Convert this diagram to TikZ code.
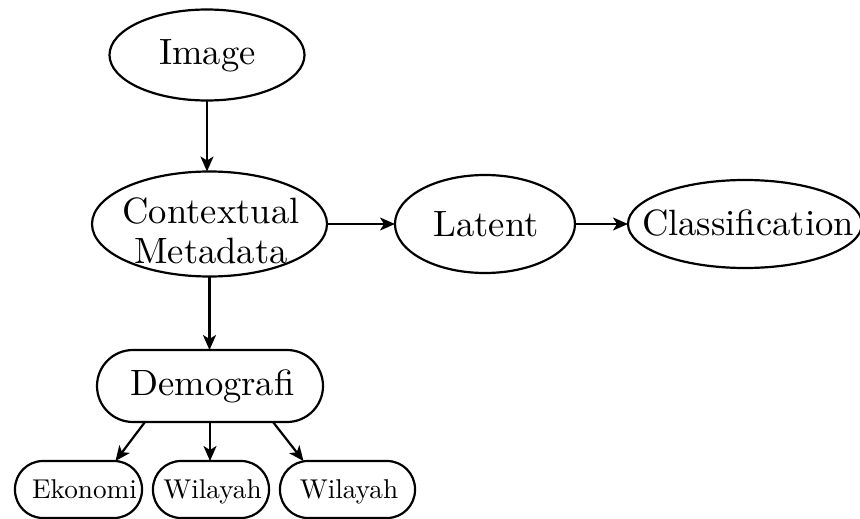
\documentclass[tikz,border=0pt]{standalone}
\usetikzlibrary{shapes.geometric,arrows.meta}
\begin{document}
\begin{tikzpicture}[x=1pt,y=-1pt,
  shp/.style={draw, line width=2.2pt, inner sep=0pt, outer sep=0pt},
  ell/.style={shp, ellipse},
  pill/.style={shp, rectangle},
  big/.style={inner sep=0pt, anchor=base, font=\fontsize{10}{11}\selectfont, scale=3.66, transform shape},
  small/.style={inner sep=0pt, anchor=base, font=\fontsize{10}{11}\selectfont, scale=2.72, transform shape},
  arr/.style={line width=2.2pt, -{Stealth[length=15pt,width=13pt,inset=4pt]}}]
\useasboundingbox (0,0) rectangle (860,519);
% shapes
\node[ell, minimum width=195pt, minimum height=91pt] (img) at (207,55) {};
\node[ell, minimum width=235pt, minimum height=105pt] (ctx) at (209.5,224) {};
\node[ell, minimum width=180pt, minimum height=98pt] (lat) at (485,224) {};
\node[ell, minimum width=234pt, minimum height=88pt] (cls) at (745,224) {};
\node[pill, rounded corners=36pt, minimum width=226pt, minimum height=72pt] (dem) at (210,386) {};
\node[pill, rounded corners=28pt, minimum width=127pt, minimum height=57pt] (eko) at (78.5,489.5) {};
\node[pill, rounded corners=28pt, minimum width=116pt, minimum height=57pt] (wil1) at (211,489.5) {};
\node[pill, rounded corners=28pt, minimum width=135pt, minimum height=57pt] (wil2) at (347.5,489.5) {};
% texts
\node[big] (imgt) at (207.5,65) {Image};
\node[big, anchor=center, align=center, font=\fontsize{10}{10.93}\selectfont] (ctxt) at (211,230.5) {Contextual\\Metadata};
\node[big] (latt) at (486,236) {Latent};
\node[big] (clst) at (748,235) {Classification};
\node[big] (demt) at (212.5,395) {Demografi};
\node[small] (ekot) at (84.5,498) {Ekonomi};
\node[small] (wil1t) at (212.5,498) {Wilayah};
\node[small] (wil2t) at (349,498) {Wilayah};
% connectors
\draw[arr] (img.south) -- (img.south |- ctx.north);
\draw[arr] (ctx.east) -- (lat.west);
\draw[arr] (lat.east) -- (cls.west);
\draw[arr] (ctx.south) -- (ctx.south |- dem.north);
\draw[arr] ([xshift=-65pt]dem.south) -- ([xshift=37pt]eko.north);
\draw[arr] (dem.south) -- (dem.south |- wil1.north);
\draw[arr] ([xshift=63pt]dem.south) -- ([xshift=-44pt]wil2.north);
\end{tikzpicture}
\end{document}
